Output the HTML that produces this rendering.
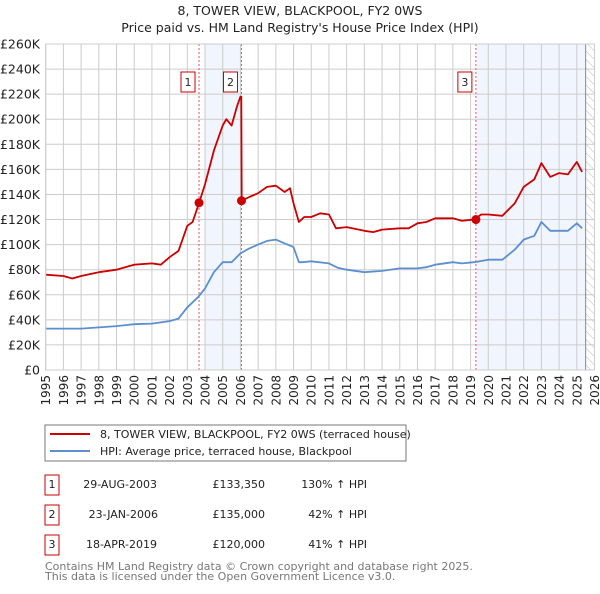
<!DOCTYPE html>
<html><head><meta charset="utf-8">
<style>
body{margin:0;background:#fff;width:600px;height:590px;overflow:hidden;font-family:"DejaVu Sans","Liberation Sans",sans-serif;}
svg text{font-family:"DejaVu Sans","Liberation Sans",sans-serif;}
</style></head>
<body>
<svg id="chart" width="600" height="590" xmlns="http://www.w3.org/2000/svg">
<text x="300" y="15" text-anchor="middle" font-size="12.5" fill="#222">8, TOWER VIEW, BLACKPOOL, FY2 0WS</text>
<text x="300" y="32" text-anchor="middle" font-size="12.5" fill="#222">Price paid vs. HM Land Registry's House Price Index (HPI)</text>
<g id="plot"></g>
<g>
<rect x="45" y="425" width="361" height="36" fill="#fff" stroke="#777"/>
<line x1="50" y1="434" x2="90" y2="434" stroke="#cc0000" stroke-width="2"/>
<text x="100" y="438" font-size="11" fill="#222">8, TOWER VIEW, BLACKPOOL, FY2 0WS (terraced house)</text>
<line x1="50" y1="451" x2="90" y2="451" stroke="#5b8fd0" stroke-width="2"/>
<text x="100" y="455" font-size="11" fill="#222">HPI: Average price, terraced house, Blackpool</text>
</g>
<g font-size="11" fill="#222">
<rect x="45" y="475" width="14" height="20" fill="#fff" stroke="#cc0000"/><text x="52" y="488" text-anchor="middle">1</text>
<text x="157" y="488" text-anchor="end">29-AUG-2003</text><text x="265" y="488" text-anchor="end">£133,350</text><text x="367" y="488" text-anchor="end">130% ↑ HPI</text>
<rect x="45" y="505" width="14" height="20" fill="#fff" stroke="#cc0000"/><text x="52" y="518" text-anchor="middle">2</text>
<text x="158" y="518" text-anchor="end">23-JAN-2006</text><text x="265" y="518" text-anchor="end">£135,000</text><text x="367" y="518" text-anchor="end">42% ↑ HPI</text>
<rect x="45" y="535" width="14" height="20" fill="#fff" stroke="#cc0000"/><text x="52" y="548" text-anchor="middle">3</text>
<text x="157" y="548" text-anchor="end">18-APR-2019</text><text x="265" y="548" text-anchor="end">£120,000</text><text x="367" y="548" text-anchor="end">41% ↑ HPI</text>
</g>
<text x="45" y="570" font-size="11" fill="#777">Contains HM Land Registry data © Crown copyright and database right 2025.</text>
<text x="45" y="580" font-size="11" fill="#777">This data is licensed under the Open Government Licence v3.0.</text>
</svg>
<script>
const yTicks=[0,20,40,60,80,100,120,140,160,180,200,220,240,260];
const yearTicks=[1995,1996,1997,1998,1999,2000,2001,2002,2003,2004,2005,2006,2007,2008,2009,2010,2011,2012,2013,2014,2015,2016,2017,2018,2019,2020,2021,2022,2023,2024,2025,2026];
const hpiYears=[1995,1996,1997,1998,1999,2000,2001,2002,2002.5,2003,2003.6,2004,2004.5,2005,2005.5,2006,2006.5,2007,2007.5,2008,2008.5,2009,2009.3,2009.5,2010,2011,2011.5,2012,2013,2014,2015,2016,2016.5,2017,2018,2018.5,2019.2,2020,2020.8,2021.5,2022,2022.6,2023,2023.5,2024,2024.5,2025,2025.3];
const hpiValues=[33,33,33,34,35,36.5,37,39,41,50,58,65,78,86,86,93,97,100,103,104,101,98,86,86,86.7,85,81.5,80,78,79,81,81,82,84,86,85,86,88,88,96,104,107,118,111,111,111,117,113];
const priceYears=[1995,1996,1996.5,1997,1998,1999,2000,2001,2001.5,2002,2002.5,2003,2003.3,2003.66,2004,2004.5,2005,2005.2,2005.5,2005.8,2006,2006.05,2006.07,2006.5,2007,2007.5,2008,2008.5,2008.8,2009,2009.3,2009.6,2010,2010.5,2011,2011.4,2012,2013,2013.5,2014,2015,2015.5,2016,2016.5,2017,2018,2018.5,2019.2,2019.6,2020,2020.8,2021.5,2022,2022.6,2023,2023.5,2024,2024.5,2025,2025.3];
const priceValues=[76,75,73,75,78,80,84,85,84,90,95,115,118,133,148,175,195,200,195,210,218,218,135,138,141,146,147,142,145,133,118,122,122,125,124,113,114,111,110,112,113,113,117,118,121,121,119,120,124,124,123,133,146,152,165,154,157,156,166,158];
const saleYears=[2003.66,2006.06,2019.3];
const saleValues=[133.35,135,120];
const saleLabels=["1","2","3"];
const NS="http://www.w3.org/2000/svg";
const X0=45.7,X1=594.5,Y0=370,Y1=44;
const xs=y=>X0+(y-1995)*(X1-X0)/31;
const ys=v=>Y0-v*(Y0-Y1)/260;
const plot=document.getElementById('plot');
function mk(tag,attrs,parent){const e=document.createElementNS(NS,tag);for(const k in attrs)e.setAttribute(k,attrs[k]);(parent||plot).appendChild(e);return e;}
let s1=mk('rect',{x:xs(2004),y:Y1,width:xs(saleYears[1])-xs(2004),height:Y0-Y1,fill:'#eef3fc',opacity:0.8});


let s2=mk('rect',{x:xs(saleYears[2]),y:Y1,width:xs(2025.5)-xs(saleYears[2]),height:Y0-Y1,fill:'#eef3fc',opacity:0.8});


const defs=mk('defs',{});
const pat=mk('pattern',{id:'hatch',width:6,height:6,patternUnits:'userSpaceOnUse',patternTransform:'rotate(-45)'},defs);
mk('line',{x1:0,y1:0,x2:0,y2:6,stroke:'#bbb','stroke-width':1},pat);
let h=mk('rect',{x:xs(2025.5),y:Y1,width:X1-xs(2025.5),height:Y0-Y1,fill:'url(#hatch)'});


yTicks.forEach(t=>{
 let l=mk('line',{x1:X0,x2:X1,y1:ys(t),y2:ys(t),stroke:'#ccc','stroke-width':1});
 
 
 let tx=mk('text',{x:40,y:ys(t)+4.5,'text-anchor':'end','font-size':12.5,fill:'#222'});
 tx.textContent=t===0?'£0':'£'+t+'K';
 
 
});
yearTicks.forEach(y=>{
 let l=mk('line',{x1:xs(y),x2:xs(y),y1:Y1,y2:Y0,stroke:'#ccc','stroke-width':1});
 
 
 let cx=xs(y)+4.5, cy=375;
 let tx=mk('text',{x:cx,y:cy,'text-anchor':'end','font-size':12,fill:'#222',transform:`rotate(-90 ${cx} ${cy})`});
 tx.textContent=y;
 
 
});
let dl=mk('line',{x1:xs(2025.5),x2:xs(2025.5),y1:Y1,y2:Y0,stroke:'#888','stroke-width':1});


saleYears.forEach((y,i)=>{
 let l=mk('line',{x1:xs(y),x2:xs(y),y1:Y1,y2:Y0,stroke:'#e55','stroke-width':1,'stroke-dasharray':'2,2'});
 
 
 let b=mk('rect',{x:xs(y)-18,y:72,width:14,height:20,fill:'#fff',stroke:'#cc0000'});
 
 
 let t=mk('text',{x:xs(y)-11,y:86,'text-anchor':'middle','font-size':11,fill:'#222'});
 t.textContent=saleLabels[i];
 
 
});
function path(yrs,vals,col,name){
 let d=yrs.map((y,i)=>(i?'L':'M')+xs(y).toFixed(1)+','+ys(vals[i]).toFixed(1)).join(' ');
 let p=mk('path',{d:d,fill:'none',stroke:col,'stroke-width':1.8,'stroke-linejoin':'round'});
 
 
}
path(hpiYears,hpiValues,'#5b8fd0','hpi-line');
path(priceYears,priceValues,'#cc0000','price-line');
saleYears.forEach((y,i)=>{
 let c=mk('circle',{cx:xs(y),cy:ys(saleValues[i]),r:4.5,fill:'#cc0000'});
 
 
});
let fr=mk('rect',{x:X0,y:Y1,width:X1-X0,height:Y0-Y1,fill:'none',stroke:'#ccc'});


</script>
</body></html>
